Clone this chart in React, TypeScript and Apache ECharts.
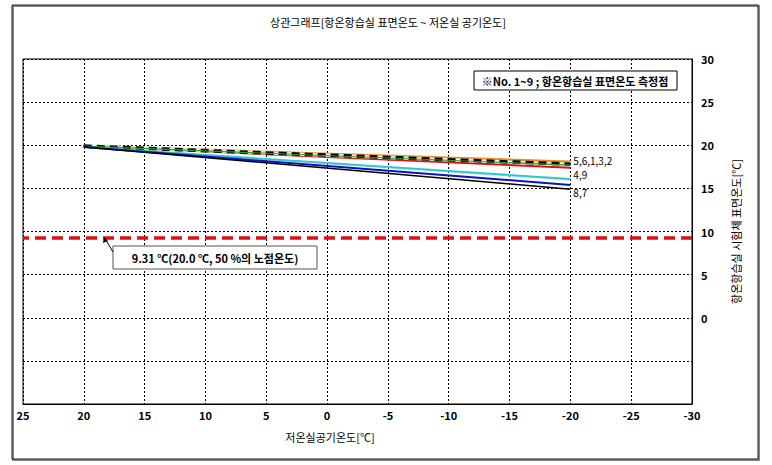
import React, { useEffect, useRef } from "react";
import * as echarts from "echarts";

const xValues = [20, -20];
const s1 = [19.9, 17.7];
const s2 = [19.9, 17.9];
const s3 = [19.9, 18.1];
const s4 = [19.8, 16.1];
const s5 = [19.9, 17.8];
const s6 = [19.9, 17.4];
const s7 = [19.8, 14.9];
const s8 = [19.8, 15.4];
const s9 = [19.8, 16.0];
const dewPoint = 9.31;
const xTicks = [25, 20, 15, 10, 5, 0, -5, -10, -15, -20, -25, -30];
const yTicks = [30, 25, 20, 15, 10, 5, 0];

const FONT = "'Noto Sans CJK KR', 'Noto Sans', sans-serif";

const pts = (ys: number[], endText?: string, dy = 0) =>
  xValues.map((x, i) => {
    if (endText && i === xValues.length - 1) {
      return {
        value: [x, ys[i]],
        label: {
          show: true,
          position: "right",
          distance: 3,
          offset: [0, dy],
          formatter: endText,
          color: "#000",
          fontSize: 10,
          lineHeight: 11,
          fontFamily: FONT,
        },
      };
    }
    return { value: [x, ys[i]] };
  });

export default function App() {
  const ref = useRef<HTMLDivElement>(null);
  useEffect(() => {
    if (!ref.current) return;
    const chart = echarts.init(ref.current, undefined, { renderer: "svg" });
    const line = (
      name: string,
      ys: number[],
      color: string,
      width: number,
      extra: any = {},
      endText?: string,
      dy = 0
    ) => ({
      name,
      type: "line",
      data: pts(ys, endText, dy),
      symbol: "circle",
      symbolSize: 0,
      showSymbol: true,
      lineStyle: { color, width },
      itemStyle: { color },
      silent: true,
      ...extra,
    });
    chart.setOption({
      animation: false,
      backgroundColor: "#fff",
      textStyle: { fontFamily: FONT },
      grid: {
        left: 23,
        right: 80,
        top: 59,
        bottom: 61,
        show: true,
        borderColor: "#000",
        borderWidth: 1,
        backgroundColor: "#fff",
      },
      xAxis: {
        type: "value",
        inverse: true,
        min: -30,
        max: 25,
        interval: 5,
        axisLine: { show: true, onZero: false, lineStyle: { color: "#000", width: 1 } },
        axisTick: { show: false },
        axisLabel: {
          color: "#000",
          fontSize: 11,
          fontWeight: "bold",
          fontFamily: FONT,
          margin: 5,
          formatter: (v: number) => (xTicks.includes(v) ? String(v) : ""),
        },
        splitLine: { show: true, lineStyle: { color: "#000", width: 1, type: [2, 2] } },
      },
      yAxis: {
        type: "value",
        position: "right",
        min: -10,
        max: 30,
        interval: 5,
        axisLine: { show: true, onZero: false, lineStyle: { color: "#000", width: 1 } },
        axisTick: { show: false },
        axisLabel: {
          color: "#000",
          fontSize: 11,
          fontWeight: "bold",
          fontFamily: FONT,
          margin: 9,
          formatter: (v: number) => (yTicks.includes(v) ? String(v) : ""),
        },
        splitLine: { show: true, lineStyle: { color: "#000", width: 1, type: [2, 2] } },
        name: "항온항습실 시험체 표면온도[℃]",
        nameLocation: "middle",
        nameRotate: 90,
        nameGap: 38,
        nameTextStyle: { color: "#000", fontSize: 11, fontFamily: FONT },
      },
      series: [
        line("3", s3, "#f08a1c", 2.5),
        line("2", s2, "#8b3a1a", 2),
        line("6", s6, "#e01010", 2),
        line("5-under", s5, "#f3efc8", 3.5),
        line(
          "5",
          s5,
          "#000",
          3.5,
          { lineStyle: { color: "#000", width: 3.5, type: [8, 5] } },
          "5,6,1,3,2",
          -4
        ),
        line("1", s1, "#1f9e3a", 1.2),
        line("9", s9, "#7fd3f0", 1.5),
        line("4", s4, "#2cc8c8", 1.8, {}, "4,9", -4),
        line("8", s8, "#1010c0", 2),
        line(
          "7",
          s7,
          "#000",
          1.6,
          {
            markLine: {
              silent: true,
              symbol: "none",
              label: { show: false },
              lineStyle: { color: "#e01010", width: 3.5, type: [11, 6] },
              data: [{ yAxis: dewPoint }],
            },
          },
          "8,7",
          3
        ),
      ],
      graphic: [
        {
          type: "rect",
          shape: { x: 13, y: 6, width: 746, height: 454 },
          style: { fill: "none", stroke: "#888", lineWidth: 2 },
          z: -1,
        },
        {
          type: "rect",
          shape: { x: 12, y: 5, width: 746, height: 454 },
          style: { fill: "none", stroke: "#222", lineWidth: 1 },
          z: -1,
        },
        {
          type: "text",
          x: 388,
          y: 22,
          style: {
            text: "상관그래프[항온항습실 표면온도 ~ 저온실 공기온도]",
            font: `11px ${FONT}`,
            fill: "#000",
            align: "center",
            verticalAlign: "middle",
          },
        },
        {
          type: "text",
          x: 330,
          y: 437,
          style: {
            text: "저온실공기온도[℃]",
            font: `11px ${FONT}`,
            fill: "#000",
            align: "center",
            verticalAlign: "middle",
          },
        },
        {
          type: "rect",
          shape: { x: 474, y: 71, width: 203, height: 19 },
          style: { fill: "#fff", stroke: "#000", lineWidth: 1 },
          z: 100,
        },
        {
          type: "text",
          x: 575,
          y: 81,
          z: 101,
          style: {
            text: "※No. 1~9 ; 항온항습실 표면온도 측정점",
            font: `bold 11px ${FONT}`,
            fill: "#000",
            align: "center",
            verticalAlign: "middle",
          },
        },
        {
          type: "rect",
          shape: { x: 113, y: 246, width: 204, height: 23 },
          style: { fill: "#fff", stroke: "#555", lineWidth: 1 },
          z: 100,
        },
        {
          type: "text",
          x: 215,
          y: 258,
          z: 101,
          style: {
            text: "9.31 ℃(20.0 ℃, 50 %의 노점온도)",
            font: `bold 11px ${FONT}`,
            fill: "#000",
            align: "center",
            verticalAlign: "middle",
          },
        },
        {
          type: "line",
          shape: { x1: 113, y1: 252, x2: 106, y2: 240 },
          style: { stroke: "#000", lineWidth: 1 },
          z: 101,
        },
        {
          type: "polygon",
          shape: { points: [[104, 237], [103, 243], [108, 241]] },
          style: { fill: "#000" },
          z: 101,
        },
      ],
    });
    return () => chart.dispose();
  }, []);
  return (
    <div
      ref={ref}
      style={{ position: "fixed", left: 0, top: 0, width: 772, height: 465 }}
    />
  );
}
